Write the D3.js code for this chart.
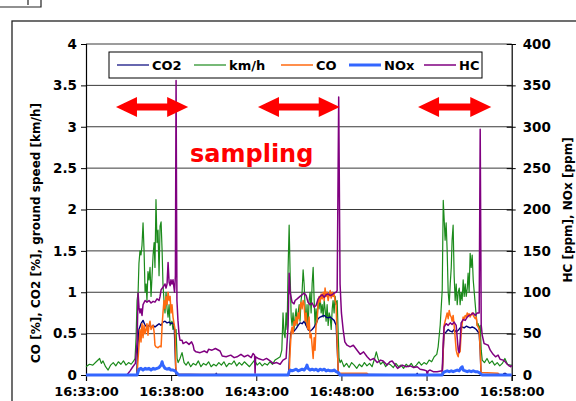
<!DOCTYPE html>
<html>
<head>
<meta charset="utf-8">
<script src="https://cdn.jsdelivr.net/npm/d3@7"></script>
<style>
  body { margin: 0; background: #fff; }
  svg { display: block; font-family: "DejaVu Sans", Verdana, sans-serif; font-weight: bold; }
</style>
</head>
<body>
<script>
// time is minutes after 16:33:00
const xTicks = [0, 5, 10, 15, 20, 25];
const xTickLabels = ["16:33:00", "16:38:00", "16:43:00", "16:48:00", "16:53:00", "16:58:00"];
const leftTicks = [0, 0.5, 1, 1.5, 2, 2.5, 3, 3.5, 4];
const rightTicks = [0, 50, 100, 150, 200, 250, 300, 350, 400];

// ground speed [km/h]
const speed = [[0,0.1],[0.2,0.13],[0.4,0.12],[0.6,0.16],[0.8,0.2],[0.9,0.14],[1.0,0.17],[1.15,0.1],[1.3,0.06],[1.45,0.12],[1.6,0.15],[1.75,0.11],[1.9,0.16],[2.05,0.13],[2.2,0.17],[2.35,0.12],[2.5,0.15],[2.65,0.13],[2.8,0.17],[2.88,0.2],
  [2.94,0.45],[3.0,0.9],[3.06,1.0],[3.11,1.35],[3.17,1.5],[3.23,1.45],[3.29,1.57],[3.35,1.84],[3.41,1.5],[3.47,1.0],[3.53,1.1],[3.58,0.9],[3.64,1.25],[3.7,1.15],[3.76,1.3],[3.82,0.95],[3.88,1.2],[3.94,1.45],[4.0,1.6],[4.05,1.3],[4.11,2.12],[4.17,1.6],[4.23,1.75],[4.29,1.2],[4.35,1.8],[4.41,1.85],[4.47,1.5],[4.52,1.1],[4.58,0.9],[4.64,0.75],[4.7,1.0],[4.76,0.8],[4.82,0.7],[4.88,0.85],[4.94,0.6],[5.05,0.65],[5.11,0.55],[5.17,0.6],[5.23,0.5],[5.29,0.55],[5.35,0.2],[5.41,0.15],
  [5.52,0.2],[5.64,0.27],[5.76,0.15],[5.88,0.12],[6.0,0.16],[6.15,0.1],[6.3,0.14],[6.45,0.12],[6.6,0.17],[6.75,0.1],[6.9,0.14],[7.05,0.12],[7.2,0.16],[7.35,0.1],[7.5,0.13],[7.65,0.11],[7.8,0.15],[7.95,0.12],[8.1,0.16],[8.25,0.1],[8.4,0.14],[8.55,0.13],[8.7,0.17],[8.85,0.11],[9.0,0.15],[9.15,0.12],[9.3,0.16],[9.45,0.13],[9.6,0.1],[9.75,0.14],[9.9,0.18],[10.05,0.12],[10.2,0.15],[10.35,0.11],[10.5,0.14],[10.65,0.12],[10.8,0.16],[10.95,0.13],[11.1,0.18],[11.25,0.2],[11.4,0.22],
  [11.5,0.3],[11.57,0.75],[11.63,0.5],[11.69,0.45],[11.75,0.75],[11.81,0.55],[11.87,1.3],[11.93,1.81],[11.99,1.2],[12.05,0.7],[12.1,0.6],[12.16,0.75],[12.22,0.55],[12.28,0.7],[12.34,0.8],[12.4,0.6],[12.46,0.75],[12.52,0.85],[12.57,0.65],[12.63,0.9],[12.69,1.0],[12.75,1.27],[12.81,1.1],[12.87,0.8],[12.93,0.6],[12.98,0.85],[13.04,0.55],[13.1,0.9],[13.16,1.0],[13.22,0.75],[13.28,1.1],[13.34,1.3],[13.4,0.9],[13.45,0.6],[13.51,0.8],[13.57,0.65],[13.63,0.9],[13.69,0.8],[13.75,0.95],[13.81,0.75],[13.87,0.85],[13.93,0.7],[13.99,0.9],[14.04,0.8],[14.1,0.65],[14.16,0.85],[14.22,0.6],[14.28,0.75],[14.34,0.7],[14.4,0.55],[14.46,0.8],[14.51,0.9],[14.57,0.75],[14.63,0.95],[14.69,0.85],[14.75,0.9],[14.81,0.5],[14.86,0.2],[14.92,0.15],
  [15.0,0.18],[15.15,0.1],[15.3,0.14],[15.45,0.09],[15.6,0.15],[15.75,0.12],[15.9,0.08],[16.05,0.13],[16.2,0.1],[16.35,0.15],[16.5,0.11],[16.65,0.14],[16.8,0.1],[16.95,0.2],[17.05,0.28],[17.15,0.2],[17.3,0.13],[17.45,0.16],[17.6,0.1],[17.75,0.14],[17.9,0.12],[18.05,0.09],[18.2,0.14],[18.35,0.1],[18.5,0.12],[18.65,0.08],[18.8,0.13],[18.95,0.1],[19.1,0.14],[19.25,0.09],[19.4,0.12],[19.55,0.16],[19.7,0.12],[19.85,0.15],[20.0,0.13],[20.15,0.18],[20.3,0.16],[20.45,0.22],[20.6,0.25],[20.68,0.34],
  [20.8,0.6],[20.92,1.03],[20.98,2.11],[21.03,1.9],[21.09,1.63],[21.15,1.84],[21.21,1.5],[21.27,1.0],[21.33,0.85],[21.39,1.1],[21.45,1.3],[21.5,1.63],[21.56,1.81],[21.62,1.2],[21.68,0.9],[21.74,1.1],[21.8,0.85],[21.86,1.0],[21.92,1.05],[21.97,0.85],[22.03,1.0],[22.09,0.9],[22.15,1.15],[22.21,0.95],[22.27,1.1],[22.33,0.95],[22.39,1.05],[22.44,1.23],[22.5,1.0],[22.56,1.47],[22.62,1.3],[22.68,1.45],[22.74,1.15],[22.8,1.0],[22.86,0.85],[22.92,0.7],[22.97,0.6],[23.03,0.62],[23.09,0.55],[23.15,0.6],[23.21,0.3],[23.27,0.18],
  [23.4,0.15],[23.55,0.2],[23.7,0.14],[23.85,0.17],[24.0,0.12],[24.15,0.15],[24.3,0.11],[24.45,0.14],[24.6,0.2],[24.75,0.13],[24.9,0.12],[25.0,0.12]];

// CO2 [%]
const co2 = [[0,0],[2.98,0],[3.03,0.3],[3.11,0.55],[3.23,0.62],[3.35,0.66],[3.47,0.6],[3.58,0.58],[3.7,0.6],[3.82,0.58],[3.94,0.6],[4.05,0.58],[4.17,0.6],[4.29,0.62],[4.41,0.6],[4.52,0.64],[4.64,0.65],[4.76,0.63],[4.88,0.64],[4.99,0.62],[5.11,0.63],[5.18,0.6],[5.23,0.3],[5.28,0.01],[7.6,0],[7.65,0.02],[7.7,0],
  [11.9,0],[11.96,0.3],[12.02,0.5],[12.1,0.55],[12.22,0.53],[12.34,0.56],[12.46,0.6],[12.57,0.63],[12.69,0.62],[12.81,0.65],[12.93,0.6],[13.04,0.55],[13.16,0.53],[13.28,0.55],[13.4,0.58],[13.51,0.62],[13.63,0.68],[13.75,0.7],[13.87,0.71],[13.99,0.72],[14.1,0.7],[14.22,0.69],[14.34,0.7],[14.46,0.68],[14.57,0.66],[14.69,0.6],[14.76,0.3],[14.82,0.01],[19.4,0],[19.45,0.02],[19.5,0],
  [20.92,0],[20.98,0.3],[21.03,0.5],[21.15,0.52],[21.27,0.55],[21.39,0.53],[21.5,0.52],[21.62,0.55],[21.74,0.52],[21.86,0.54],[21.97,0.57],[22.09,0.58],[22.21,0.57],[22.33,0.59],[22.44,0.58],[22.56,0.57],[22.68,0.58],[22.8,0.57],[22.92,0.55],[23.03,0.52],[23.09,0.5],[23.15,0.3],[23.2,0],[24.5,0],[24.55,0.02],[24.65,0.02],[24.7,0],[25,0]];

// CO [%]
const co = [[0,0],[3.0,0],[3.06,0.2],[3.11,0.35],[3.17,0.55],[3.23,0.4],[3.29,0.62],[3.35,0.45],[3.41,0.6],[3.47,0.5],[3.53,0.55],[3.58,0.62],[3.64,0.48],[3.7,0.6],[3.76,0.65],[3.82,0.55],[3.88,0.58],[3.94,0.6],[4.0,0.52],[4.05,0.36],[4.11,0.34],[4.23,0.33],[4.35,0.35],[4.41,0.34],[4.47,0.6],[4.52,0.75],[4.58,0.9],[4.64,0.8],[4.7,0.95],[4.76,0.85],[4.82,1.0],[4.88,0.9],[4.94,0.95],[4.99,0.75],[5.05,0.85],[5.11,0.7],[5.17,0.62],[5.23,0.55],[5.27,0.1],[5.32,0.01],
  [11.93,0],[11.99,0.3],[12.05,0.52],[12.1,0.58],[12.16,0.5],[12.22,0.65],[12.28,0.6],[12.34,0.7],[12.4,0.62],[12.46,0.75],[12.52,0.68],[12.57,0.82],[12.63,0.88],[12.69,0.8],[12.75,0.9],[12.81,0.85],[12.87,0.65],[12.93,0.75],[12.98,0.6],[13.04,0.55],[13.1,0.7],[13.16,0.45],[13.22,0.5],[13.28,0.35],[13.34,0.2],[13.4,0.45],[13.45,0.3],[13.51,0.6],[13.57,0.65],[13.63,0.85],[13.69,0.95],[13.75,0.88],[13.81,0.98],[13.87,0.92],[13.93,1.0],[13.99,0.9],[14.04,1.05],[14.1,0.95],[14.16,1.0],[14.22,0.9],[14.28,0.97],[14.34,1.02],[14.4,0.93],[14.46,1.0],[14.51,0.95],[14.57,0.98],[14.63,0.9],[14.69,0.85],[14.75,0.4],[14.81,0.05],[14.86,0.02],[16.5,0.02],[16.6,0],
  [20.92,0],[20.98,0.3],[21.03,0.6],[21.09,0.65],[21.15,0.7],[21.21,0.75],[21.27,0.68],[21.33,0.78],[21.39,0.72],[21.45,0.7],[21.5,0.65],[21.56,0.72],[21.62,0.6],[21.68,0.45],[21.74,0.3],[21.8,0.25],[21.86,0.22],[21.92,0.35],[21.97,0.28],[22.03,0.5],[22.09,0.62],[22.15,0.7],[22.21,0.68],[22.27,0.72],[22.33,0.7],[22.39,0.75],[22.44,0.72],[22.5,0.74],[22.56,0.7],[22.62,0.73],[22.68,0.75],[22.74,0.72],[22.8,0.7],[22.86,0.68],[22.92,0.7],[22.97,0.6],[23.03,0.58],[23.09,0.55],[23.15,0.3],[23.2,0.03],[24.2,0.02],[24.3,0],[25,0]];

// NOx [ppm]
const nox = [[0,0],[3.0,0],[3.06,4],[3.11,7],[3.23,8],[3.35,6],[3.47,8],[3.58,7],[3.7,8],[3.82,6],[3.94,8],[4.05,7],[4.17,8],[4.29,9],[4.41,12],[4.47,16],[4.52,12],[4.64,8],[4.76,7],[4.88,8],[4.99,6],[5.11,6],[5.23,5],[5.35,2],[5.45,0],
  [11.87,0],[11.93,4],[12.0,6],[12.1,5],[12.22,6],[12.34,7],[12.46,5],[12.57,6],[12.69,7],[12.81,6],[12.93,9],[12.98,12],[13.04,8],[13.16,6],[13.28,7],[13.4,6],[13.51,7],[13.63,5],[13.75,7],[13.87,6],[13.99,7],[14.1,5],[14.22,6],[14.34,5],[14.46,5],[14.57,6],[14.69,4],[14.81,3],[14.92,0],
  [20.92,0],[20.98,3],[21.09,4],[21.21,5],[21.33,4],[21.45,5],[21.56,4],[21.68,5],[21.8,6],[21.92,5],[22.0,8],[22.09,10],[22.15,6],[22.27,5],[22.39,4],[22.5,5],[22.62,4],[22.74,5],[22.86,4],[22.97,4],[23.09,3],[23.2,1],[23.27,0],[25,0]];

// HC [ppm]
const hc = [[0,0],[2.4,0],[2.59,5],[2.75,10],[2.9,14],[3.0,40],[3.06,99],[3.11,82],[3.17,75],[3.23,80],[3.29,72],[3.35,85],[3.47,90],[3.58,88],[3.7,90],[3.82,87],[3.94,89],[4.05,88],[4.17,92],[4.29,90],[4.35,95],[4.41,103],[4.52,106],[4.64,110],[4.7,105],[4.76,110],[4.82,136],[4.88,112],[4.94,108],[4.99,115],[5.05,110],[5.11,115],[5.2,100],[5.25,120],[5.29,356],[5.34,90],[5.4,66],[5.46,50],[5.52,42],[5.64,42],[5.7,38],[5.88,40],[6.05,37],[6.2,40],[6.29,36],[6.35,30],[6.46,28],[6.7,27],[6.95,29],[7.11,27],[7.2,31],[7.4,30],[7.6,32],[7.87,29],[8.0,23],[8.23,22],[8.5,24],[8.7,21],[8.87,22],[9.1,25],[9.3,22],[9.5,24],[9.7,21],[9.81,26],[9.9,24],[9.93,2],[9.96,22],[10.11,20],[10.4,18],[10.6,20],[10.81,17],[10.99,14],[11.2,15],[11.4,13],[11.57,18],[11.75,20],
  [11.87,60],[11.93,123],[11.99,100],[12.1,88],[12.22,86],[12.28,90],[12.4,92],[12.57,95],[12.69,97],[12.81,99],[12.93,96],[13.04,88],[13.16,85],[13.28,87],[13.4,82],[13.51,84],[13.63,92],[13.75,95],[13.87,97],[13.99,94],[14.1,97],[14.22,98],[14.34,96],[14.46,97],[14.57,99],[14.69,100],[14.75,102],[14.84,336],[14.92,110],[15.0,75],[15.1,55],[15.2,40],[15.33,36],[15.51,34],[15.7,36],[15.92,30],[16.1,25],[16.3,28],[16.51,22],[16.69,18],[16.9,20],[17.1,15],[17.3,18],[17.45,17],[17.68,12],[17.85,16],[17.98,17],[18.16,12],[18.3,8],[18.45,10],[18.57,12],[18.8,10],[19.04,11],[19.25,9],[19.45,10],[19.62,7],[19.85,6],[20.0,5],[20.04,0],[20.1,5],[20.21,6],[20.39,4],[20.62,4],[20.92,5],
  [20.98,40],[21.03,58],[21.15,62],[21.27,60],[21.39,63],[21.5,61],[21.62,64],[21.74,60],[21.86,30],[21.92,27],[21.97,40],[22.03,63],[22.15,67],[22.27,66],[22.39,70],[22.5,72],[22.62,73],[22.74,75],[22.86,72],[22.97,75],[23.09,75],[23.15,297],[23.21,60],[23.27,48],[23.38,38],[23.5,37],[23.62,36],[23.74,30],[23.91,25],[24.05,22],[24.2,24],[24.32,19],[24.5,18],[24.62,16],[24.74,13],[24.85,11],[24.95,10],[25.0,12]];

const legendNames = ["CO2", "km/h", "CO", "NOx", "HC"];
// sampling periods marked by arrows (minutes)
const samplingPeriods = [[1.76, 6.0], [10.1, 14.9], [19.5, 23.8]];

const w = 576, h = 401;
const margin = {top: 44, right: 64, bottom: 26, left: 86};

const svg = d3.select("body").append("svg")
  .attr("width", w)
  .attr("height", h)
  .attr("viewBox", [0, 0, w, h]);

const x = d3.scaleLinear().domain([0, 25]).range([margin.left, 511.7]);
const yL = d3.scaleLinear().domain([0, 4]).range([h - margin.bottom, margin.top]);
const yR = d3.scaleLinear().domain([0, 400]).range([h - margin.bottom, margin.top]);

// outer chart frame and the clipped box at top-left
svg.append("rect").attr("x", 12).attr("y", 21).attr("width", 600).attr("height", 420)
  .attr("fill", "none").attr("stroke", "#222").attr("stroke-width", 1.3);
svg.append("path").attr("d", "M0,7H41V-2M28,0V5").attr("fill", "none").attr("stroke", "#222").attr("stroke-width", 1.2);

// gridlines
svg.append("g").selectAll("line").data(leftTicks.slice(1)).join("line")
  .attr("x1", x(0)).attr("x2", x(25))
  .attr("y1", d => yL(d)).attr("y2", d => yL(d))
  .attr("stroke", "#3a3a3a").attr("stroke-width", 1);

// axes
const leftAxis = svg.append("g").attr("transform", `translate(${x(0)},0)`)
  .call(d3.axisLeft(yL).tickValues(leftTicks).tickSize(5).tickPadding(4).tickFormat(d3.format("")));
const rightAxis = svg.append("g").attr("transform", `translate(${x(25)},0)`)
  .call(d3.axisRight(yR).tickValues(rightTicks).tickSize(4).tickPadding(7));
rightAxis.selectAll(".tick line").attr("x1", -5);
const bottomAxis = svg.append("g").attr("transform", `translate(0,${yL(0)})`)
  .call(d3.axisBottom(x).tickValues(xTicks).tickSize(6).tickPadding(6).tickFormat((d, i) => xTickLabels[i]));

[leftAxis, rightAxis, bottomAxis].forEach(a => {
  a.select(".domain").attr("stroke", "#000").attr("stroke-width", 1.2);
  a.selectAll(".tick line").attr("stroke", "#000");
  a.selectAll("text").attr("font-family", "DejaVu Sans, Verdana, sans-serif")
    .attr("font-weight", "bold").attr("font-size", 13.5).attr("fill", "#000");
});
bottomAxis.selectAll("text").attr("font-size", 13);

// axis titles
svg.append("text")
  .attr("transform", `translate(40,233) rotate(-90)`)
  .attr("text-anchor", "middle").attr("font-size", 12).text("CO [%], CO2 [%], ground speed [km/h]");
svg.append("text")
  .attr("transform", `translate(572,210) rotate(-90)`)
  .attr("text-anchor", "middle").attr("font-size", 12).text("HC [ppm], NOx [ppm]");

// series
const lineL = d3.line().x(d => x(d[0])).y(d => yL(d[1]));
const lineR = d3.line().x(d => x(d[0])).y(d => yR(d[1]));

const series = [
  {data: speed, line: lineL, color: "#1b8a1b", width: 1.2},
  {data: co2, line: lineL, color: "#00007a", width: 1.4},
  {data: co, line: lineL, color: "#ff6a10", width: 1.5},
  {data: hc, line: lineR, color: "#800080", width: 1.5},
  {data: nox, line: lineR, color: "#3366ff", width: 3}
];
series.forEach(s => {
  svg.append("path").datum(s.data)
    .attr("fill", "none").attr("stroke", s.color).attr("stroke-width", s.width)
    .attr("stroke-linejoin", "round").attr("d", s.line);
});

// legend
const legendColors = ["#00007a", "#1b8a1b", "#ff6a10", "#3366ff", "#800080"];
const legendWidths = [1.2, 1.2, 1.5, 3, 1.5];
const legendX = [117, 194, 281, 349, 424];
const lg = svg.append("g");
lg.append("rect").attr("x", 109).attr("y", 52).attr("width", 373).attr("height", 26)
  .attr("fill", "#fff").attr("stroke", "#000").attr("stroke-width", 1);
legendNames.forEach((name, i) => {
  lg.append("line").attr("x1", legendX[i]).attr("x2", legendX[i] + 32)
    .attr("y1", 65).attr("y2", 65)
    .attr("stroke", legendColors[i]).attr("stroke-width", legendWidths[i]);
  lg.append("text").attr("x", legendX[i] + 35).attr("y", 70)
    .attr("font-size", 13).text(name);
});

// sampling arrows
const arrowY = yL(3.24);
samplingPeriods.forEach(([a, b]) => {
  const x1 = x(a), x2 = x(b), hl = 21, hw = 10, sw = 3.5;
  svg.append("path")
    .attr("d", `M${x1},${arrowY}L${x1 + hl},${arrowY - hw}L${x1 + hl},${arrowY - sw}L${x2 - hl},${arrowY - sw}L${x2 - hl},${arrowY - hw}L${x2},${arrowY}L${x2 - hl},${arrowY + hw}L${x2 - hl},${arrowY + sw}L${x1 + hl},${arrowY + sw}L${x1 + hl},${arrowY + hw}Z`)
    .attr("fill", "#ff0000");
});
svg.append("text").attr("x", 190).attr("y", 162)
  .attr("font-size", 24).attr("fill", "#ff0000").text("sampling");
</script>
</body>
</html>
